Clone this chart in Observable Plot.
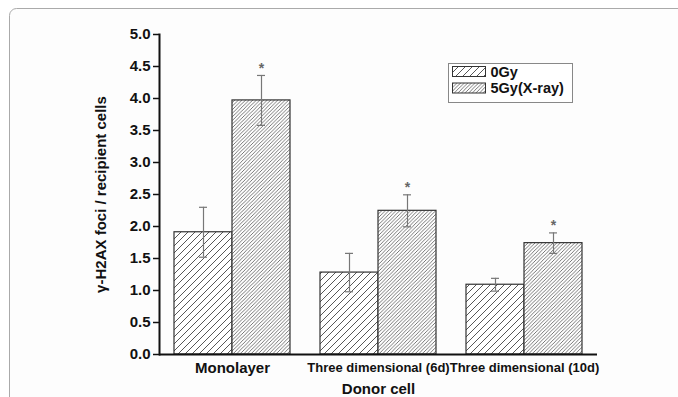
<!DOCTYPE html>
<html>
<head>
<meta charset="utf-8">
<script src="https://cdn.jsdelivr.net/npm/d3@7"></script>
<script src="https://cdn.jsdelivr.net/npm/@observablehq/plot@0.6"></script>
<style>
  html, body { margin: 0; padding: 0; background: #fff; }
  #chart { position: relative; width: 678px; height: 397px; overflow: hidden; }
</style>
</head>
<body>
<div id="chart"></div>
<script>
// ---- data ----
const categories = ["Monolayer", "Three dimensional (6d)", "Three dimensional (10d)"];
const series = ["0Gy", "5Gy(X-ray)"];
const values0Gy = [1.91, 1.28, 1.09];
const values5Gy = [3.97, 2.245, 1.74];
const errors0Gy = [0.39, 0.30, 0.10];
const errors5Gy = [0.39, 0.25, 0.16];
const significant5Gy = [true, true, true];
const yTicks = [0, 0.5, 1, 1.5, 2, 2.5, 3, 3.5, 4, 4.5, 5];

// table built from the arrays
const rows = [];
categories.forEach((c, i) => {
  rows.push({cat: c, series: series[0], value: values0Gy[i], lo: values0Gy[i] - errors0Gy[i], hi: values0Gy[i] + errors0Gy[i], star: false});
  rows.push({cat: c, series: series[1], value: values5Gy[i], lo: values5Gy[i] - errors5Gy[i], hi: values5Gy[i] + errors5Gy[i], star: significant5Gy[i]});
});
const patternFor = {"0Gy": "url(#hatchSparse)", "5Gy(X-ray)": "url(#hatchDense)"};

const plot = Plot.plot({
  width: 678,
  height: 397,
  marginLeft: 159,
  marginRight: 81,
  marginTop: 34,
  marginBottom: 43,
  style: {fontFamily: "'Liberation Sans', Arial, sans-serif", fontWeight: "bold", fontSize: "14px", background: "transparent", color: "#111", overflow: "hidden"},
  fx: {domain: categories, padding: 0, label: null},
  x: {domain: series, paddingInner: 0, paddingOuter: 0.2586, axis: null},
  y: {domain: [0, 5], axis: null},
  marks: [
    Plot.barY(rows.filter(d => d.series === series[0]), {fx: "cat", x: "series", y: "value", fill: "url(#hatchSparse)", stroke: "#333", strokeWidth: 1.2}),
    Plot.barY(rows.filter(d => d.series === series[1]), {fx: "cat", x: "series", y: "value", fill: "url(#hatchDense)", stroke: "#333", strokeWidth: 1.2}),
    Plot.ruleX(rows, {fx: "cat", x: "series", y1: "lo", y2: "hi", stroke: "#777", strokeWidth: 1.2}),
    Plot.tickY(rows, {fx: "cat", x: "series", y: "hi", stroke: "#777", strokeWidth: 1.2, insetLeft: 25, insetRight: 25}),
    Plot.tickY(rows, {fx: "cat", x: "series", y: "lo", stroke: "#777", strokeWidth: 1.2, insetLeft: 25, insetRight: 25}),
    Plot.text(rows.filter(d => d.star), {fx: "cat", x: "series", y: "hi", text: () => "*", dy: -7, fill: "#666", fontSize: 14}),
    Plot.ruleY([0], {stroke: "#111", strokeWidth: 2}),
    Plot.frame({anchor: "left", facetAnchor: "left", stroke: "#111", strokeWidth: 2}),
    Plot.axisY({ticks: yTicks, tickFormat: d3.format(".1f"), tickSize: 6, tickPadding: 3, strokeWidth: 1.5, fontSize: 15,
      label: "γ-H2AX foci / recipient cells", labelAnchor: "center", labelOffset: 64, labelArrow: "none"}),
    Plot.axisFx({anchor: "bottom", tickSize: 0, tickPadding: 8, fontSize: 13,
      label: "Donor cell", labelAnchor: "center", labelOffset: 39, labelArrow: "none"})
  ]
});

const svg = d3.select(plot);
// hatch patterns
const defs = svg.insert("defs", ":first-child");
const sparse = defs.append("pattern").attr("id", "hatchSparse").attr("patternUnits", "userSpaceOnUse").attr("width", 7).attr("height", 7);
sparse.append("rect").attr("width", 7).attr("height", 7).attr("fill", "#fff");
sparse.append("path").attr("d", "M-1,1 L1,-1 M0,7 L7,0 M6,8 L8,6").attr("stroke", "#444").attr("stroke-width", 0.9);
const dense = defs.append("pattern").attr("id", "hatchDense").attr("patternUnits", "userSpaceOnUse").attr("width", 3.6).attr("height", 3.6);
dense.append("rect").attr("width", 3.6).attr("height", 3.6).attr("fill", "#fff");
dense.append("path").attr("d", "M-1,1 L1,-1 M0,3.6 L3.6,0 M2.6,4.6 L4.6,2.6").attr("stroke", "#555").attr("stroke-width", 0.8);

// outer rounded panel border (runs off the right and bottom edges)
svg.insert("rect", "defs + *").attr("x", 9.5).attr("y", 8.5).attr("width", 700).attr("height", 420).attr("rx", 7)
  .attr("fill", "#fdfdfd").attr("stroke", "#aaa").attr("stroke-width", 1);

// font tweaks of axis labels
svg.selectAll("text").each(function() {
  const t = this.textContent;
  if (t === "Donor cell" || t === categories[0]) d3.select(this).style("font-size", "15px");
});

// legend
const legend = svg.append("g").attr("class", "legend").attr("text-anchor", "start");
legend.append("rect").attr("x", 448.5).attr("y", 63.5).attr("width", 124).attr("height", 39).attr("fill", "#fff").attr("stroke", "#888");
series.forEach((s, i) => {
  const y = 66.5 + i * 16.5;
  legend.append("rect").attr("x", 452.5).attr("y", y).attr("width", 33).attr("height", 10).attr("fill", patternFor[s]).attr("stroke", "#333").attr("stroke-width", 1);
  legend.append("text").attr("x", 490.5).attr("y", y + 5).attr("dy", "0.36em").attr("text-anchor", "start").style("font-size", "14.5px").attr("font-weight", "bold").attr("fill", "#111").text(s);
});

document.getElementById("chart").appendChild(plot);
</script>
</body>
</html>
